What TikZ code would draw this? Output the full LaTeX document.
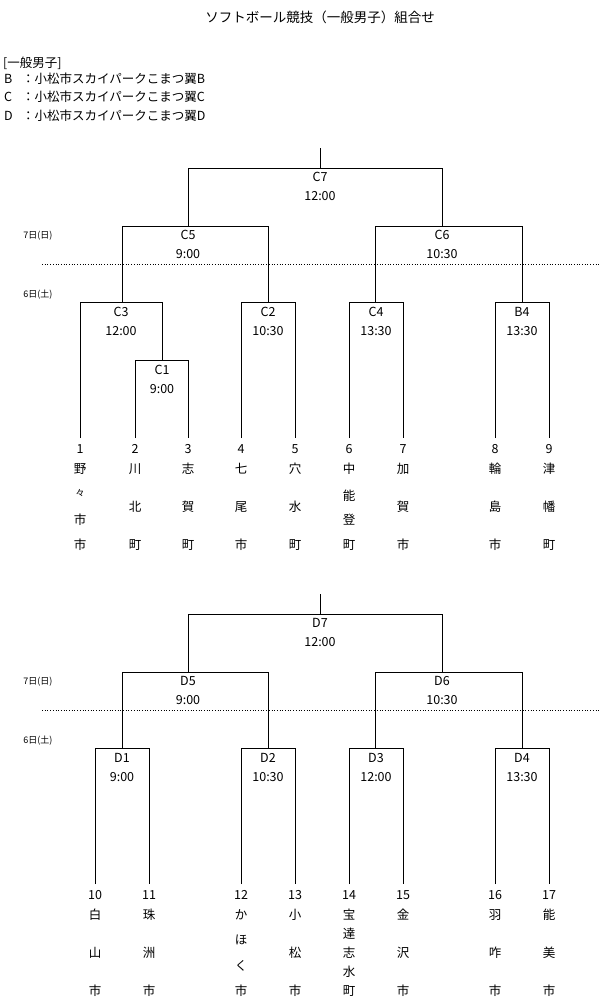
\documentclass[tikz,border=0pt]{standalone}
\usepackage{fontspec}
\setmainfont{Noto Sans CJK JP}
\begin{document}
\begin{tikzpicture}[x=1pt,y=-1pt,
  br/.style={line width=0.7pt},
  lb/.style={font=\fontsize{12.5}{13}\selectfont,inner sep=0pt},
  sm/.style={font=\fontsize{9}{10}\selectfont,inner sep=0pt},
  dl/.style={dotted,line width=0.7pt}]
\useasboundingbox[fill=white] (0,0) rectangle (600,1001);
\node[lb,font=\fontsize{13.5}{14}\selectfont] (title) at (320,17) {ソフトボール競技（一般男子）組合せ};
\node[lb,anchor=west] (lg0) at (3,63) {[一般男子]};
\foreach \l/\y in {B/79,C/97,D/116}{
  \node[lb,anchor=west] (lgl\l) at (4,\y) {\l};
  \node[lb,anchor=west] (lg\l) at (22,\y) {：小松市スカイパークこまつ翼\l};
}
\newcommand{\daylines}[1]{%
  \node[sm] (d7#1) at (38,236+#1) {7日(日)};
  \node[sm] (d6#1) at (38,295+#1) {6日(土)};
  \draw[dl] (42,264+#1) -- (600,264+#1);}
\daylines{0}
\daylines{446}
% ---------- C bracket
\coordinate (c7t) at (320,148);
\draw[br] (c7t) -- (320,168);
\draw[br] (188,226) -- (188,168) -- (442,168) -- (442,226);
\node[lb] (C7) at (320,177) {C7}; \node[lb] (C7t) at (320,196) {12:00};
\draw[br] (122,302) -- (122,226) -- (268,226) -- (268,302);
\node[lb] (C5) at (188,235) {C5}; \node[lb] (C5t) at (188,254) {9:00};
\draw[br] (375,302) -- (375,226) -- (522,226) -- (522,302);
\node[lb] (C6) at (442,235) {C6}; \node[lb] (C6t) at (442,254) {10:30};
\draw[br] (80,438) -- (80,302) -- (162,302) -- (162,360);
\node[lb] (C3) at (121,312) {C3}; \node[lb] (C3t) at (121,331) {12:00};
\draw[br] (135,438) -- (135,360) -- (188,360) -- (188,438);
\node[lb] (C1) at (162,370) {C1}; \node[lb] (C1t) at (162,389) {9:00};
\foreach \a/\b/\n/\t in {241/295/C2/10:30,349/403/C4/13:30,495/549/B4/13:30}{
  \draw[br] (\a,438) -- (\a,302) -- (\b,302) -- (\b,438);
  \node[lb] (\n) at ({(\a+\b)/2},312) {\n};
  \node[lb] (\n t) at ({(\a+\b)/2},331) {\t};
}
% ---------- D bracket
\coordinate (d7t) at (320,594);
\draw[br] (d7t) -- (320,614);
\draw[br] (188,672) -- (188,614) -- (442,614) -- (442,672);
\node[lb] (D7) at (320,623) {D7}; \node[lb] (D7t) at (320,642) {12:00};
\draw[br] (122,748) -- (122,672) -- (268,672) -- (268,748);
\node[lb] (D5) at (188,681) {D5}; \node[lb] (D5t) at (188,700) {9:00};
\draw[br] (375,748) -- (375,672) -- (522,672) -- (522,748);
\node[lb] (D6) at (442,681) {D6}; \node[lb] (D6t) at (442,700) {10:30};
\foreach \a/\b/\n/\t in {95/149/D1/9:00,241/295/D2/10:30,349/403/D3/12:00,495/549/D4/13:30}{
  \draw[br] (\a,884) -- (\a,748) -- (\b,748) -- (\b,884);
  \node[lb] (\n) at ({(\a+\b)/2},758) {\n};
  \node[lb] (\n t) at ({(\a+\b)/2},777) {\t};
}
% ---------- team labels
\foreach \x/\n in {80/1,135/2,188/3,241/4,295/5,349/6,403/7,495/8,549/9}{
  \node[lb] (n\n) at (\x,449) {\n};}
\foreach \x/\n in {95/10,149/11,241/12,295/13,349/14,403/15,495/16,549/17}{
  \node[lb] (n\n) at (\x,895) {\n};}
\node[lb] (ta1) at (80,469) {野};
\node[lb,font=\fontsize{9}{10}\selectfont] (ta2) at (80,493) {々};
\node[lb] (ta3) at (80,520) {市};
\node[lb] (ta4) at (80,545) {市};
\node[lb] (tb1) at (349,469) {中};
\node[lb] (tb2) at (349,496) {能};
\node[lb] (tb3) at (349,520) {登};
\node[lb] (tb4) at (349,545) {町};
\foreach \x/\a/\b/\c/\k in {135/川/北/町/c,188/志/賀/町/d,241/七/尾/市/e,295/穴/水/町/f,403/加/賀/市/g,495/輪/島/市/h,549/津/幡/町/i}{
  \node[lb] (u\k1) at (\x,469) {\a};
  \node[lb] (u\k2) at (\x,507) {\b};
  \node[lb] (u\k3) at (\x,545) {\c};}
\foreach \x/\a/\b/\c/\k in {95/白/山/市/j,149/珠/洲/市/k,295/小/松/市/l,403/金/沢/市/m,495/羽/咋/市/n,549/能/美/市/o}{
  \node[lb] (u\k1) at (\x,915) {\a};
  \node[lb] (u\k2) at (\x,953) {\b};
  \node[lb] (u\k3) at (\x,991) {\c};}
\node[lb] (kh1) at (241,915) {か};
\node[lb] (kh2) at (241,940) {ほ};
\node[lb] (kh3) at (241,966) {く};
\node[lb] (kh4) at (241,991) {市};
\foreach \c/\y/\i in {宝/915/1,達/934/2,志/953/3,水/972/4,町/991/5}{
  \node[lb] (hd\i) at (349,\y) {\c};}
\end{tikzpicture}
\end{document}
